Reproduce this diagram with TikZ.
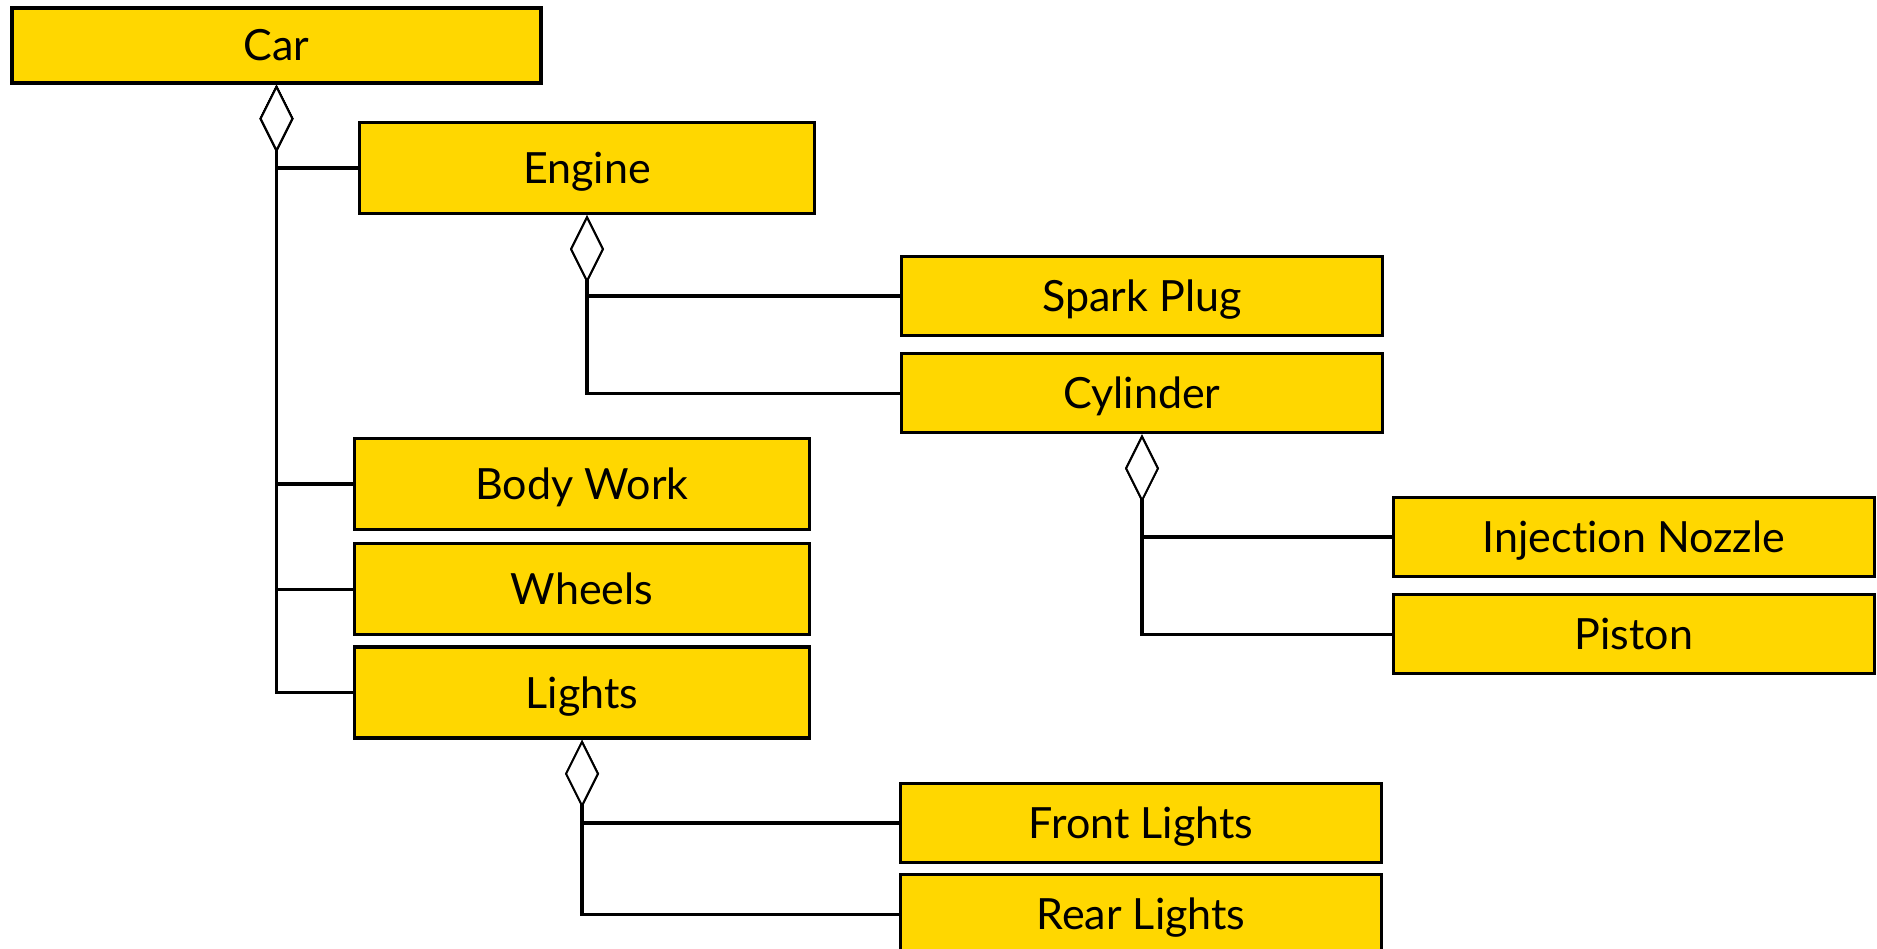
\documentclass[tikz,border=0pt]{standalone}
\usepackage{fontspec}
\setmainfont{Lato}[Ligatures=NoCommon]
\usetikzlibrary{positioning,arrows.meta}
\definecolor{partgold}{RGB}{255,215,0}

\begin{document}
\begin{tikzpicture}[
x=1pt, y=-1pt,
node distance=11pt,
every node/.style={font=\fontsize{43}{50}\selectfont},
part/.style={draw, fill=partgold, line width=3.3pt,
text height=31pt, text depth=0pt,
minimum width=455pt, minimum height=91pt},
subpart/.style={part, minimum width=481pt, minimum height=79pt},
link/.style={line width=3.3pt,
arrows={Diamond[fill=white, length=68pt, width=34pt, line width=2pt]-}}
]

\useasboundingbox (0,0) rectangle (1877,949);

\node[part, minimum width=529pt, minimum height=75pt] (car) at (276.5,45.5) {Car};

\node[part] (engine) at (587,168) {Engine};

\node[subpart] (spark) at (1142,296) {Spark Plug};

\node[subpart,
below=15pt of spark] (cylinder)
{Cylinder};

\node[subpart] (nozzle) at (1634,537) {Injection Nozzle};

\node[subpart,
below=15pt of nozzle] (piston)
{Piston};

\node[part] (body) at (582,484) {Body Work};

\node[part,
below=of body] (wheels)
{Wheels};

\node[part,
below=9pt of wheels] (lights)
{Lights};

\node[subpart] (front) at (1141,823) {Front Lights};

\node[subpart,
below=9pt of front] (rear)
{Rear Lights};

\draw[link] (car.south) |- (engine.west);
\draw[link] (car.south) |- (body.west);
\draw[link] (car.south) |- (wheels.west);
\draw[link] (car.south) |- (lights.west);

\draw[link] (engine.south) |- (spark.west);
\draw[link] (engine.south) |- (cylinder.west);

\draw[link] (cylinder.south) |- (nozzle.west);
\draw[link] (cylinder.south) |- (piston.west);

\draw[link] (lights.south) |- (front.west);
\draw[link] (lights.south) |- (rear.west);

\end{tikzpicture}
\end{document}
